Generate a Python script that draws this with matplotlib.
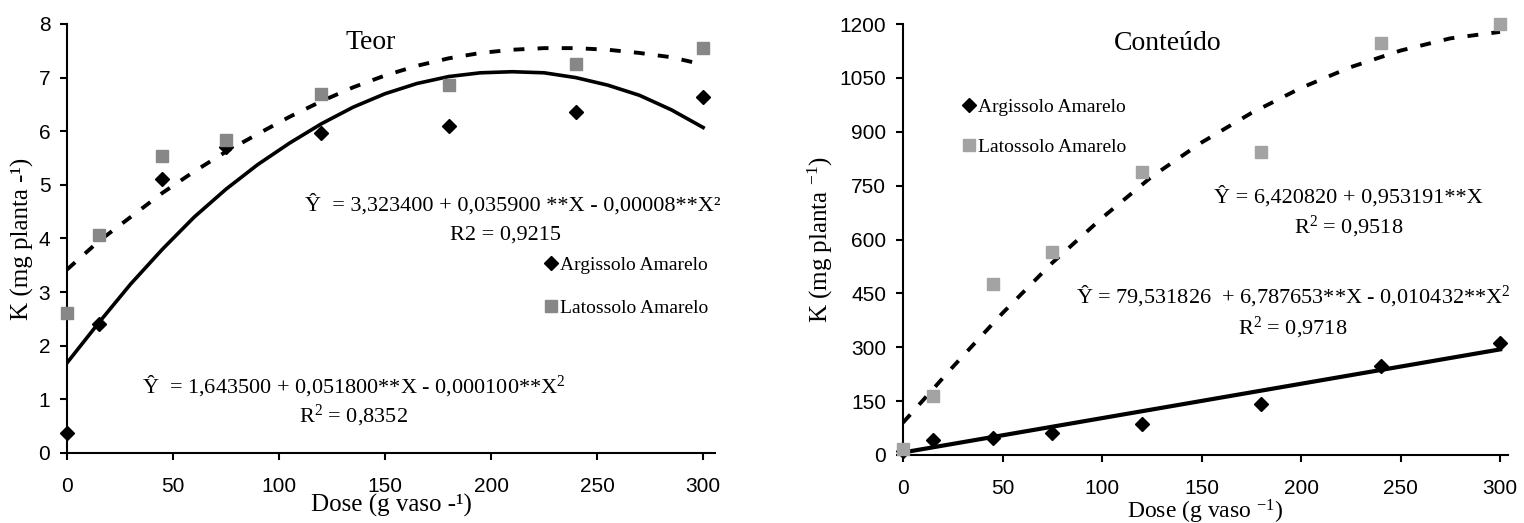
import matplotlib
matplotlib.use("Agg")
import matplotlib.pyplot as plt

# ---------------- data ----------------
doses = [0, 15, 45, 75, 120, 180, 240, 300]

teor_argissolo = [0.37, 2.40, 5.11, 5.70, 5.97, 6.09, 6.36, 6.64]
teor_latossolo = [2.62, 4.07, 5.53, 5.83, 6.69, 6.87, 7.26, 7.56]

conteudo_argissolo = [10, 41, 48, 62, 86, 141, 248, 313]
conteudo_latossolo = [16, 163, 476, 565, 788, 844, 1146, 1200]

# fitted curves
fit_x_teor = [0, 15, 30, 45, 60, 75, 90, 105, 120, 135, 150, 165, 180, 195,
              210, 225, 240, 255, 270, 285, 300]
fit_teor_arg = [1.68, 2.43, 3.15, 3.80, 4.40, 4.92, 5.38, 5.78, 6.14, 6.45,
                6.70, 6.89, 7.02, 7.09, 7.11, 7.09, 7.00, 6.86, 6.67, 6.40, 6.07]
fit_x_teor_lat = [0, 15, 30, 45, 60, 75, 90, 105, 120, 135, 150, 165, 180,
                  195, 210, 225, 240, 255, 270, 285, 296]
fit_teor_lat = [3.42, 3.95, 4.40, 4.85, 5.25, 5.62, 5.95, 6.27, 6.56, 6.82,
                7.04, 7.22, 7.36, 7.46, 7.52, 7.55, 7.55, 7.52, 7.46, 7.38, 7.28]

fit_x_cont_arg = [0, 300]
fit_cont_arg = [7, 294]
fit_x_cont_lat = [0, 25, 50, 75, 100, 125, 150, 175, 200, 225, 250, 275, 300]
fit_cont_lat = [90, 245, 395, 535, 660, 775, 870, 952, 1022, 1080, 1126, 1160, 1178]

x_ticks = [0, 50, 100, 150, 200, 250, 300]
teor_ticks = [0, 1, 2, 3, 4, 5, 6, 7, 8]
cont_ticks = [0, 150, 300, 450, 600, 750, 900, 1050, 1200]

label_arg = "Argissolo Amarelo"
label_lat = "Latossolo Amarelo"

# ---------------- styling ----------------
SERIF = ["Liberation Serif", "DejaVu Serif"]
SANS = ["Liberation Sans", "DejaVu Sans"]
plt.rcParams["font.family"] = SANS
plt.rcParams["mathtext.fontset"] = "custom"
plt.rcParams["mathtext.rm"] = "Liberation Serif"
plt.rcParams["mathtext.it"] = "Liberation Serif:italic"

W, H = 1524, 523
fig = plt.figure(figsize=(W / 100, H / 100), dpi=100)

GRAY_L = "#878787"
GRAY_R = "#a3a3a3"
EQ_FS = 16


def style_axes(ax):
    for s in ("top", "right"):
        ax.spines[s].set_visible(False)
    for s in ("left", "bottom"):
        ax.spines[s].set_linewidth(1.5)
    ax.tick_params(axis="both", direction="out", length=5, width=1.5,
                   labelsize=15)
    ax.tick_params(axis="x", pad=12)
    ax.tick_params(axis="y", pad=7)


# ---------------- left: Teor ----------------
ax1 = fig.add_axes([67 / W, (H - 453) / H, 648 / W, 429 / H])
ax1.set_xlim(0, 305.6)
ax1.set_ylim(0, 8)
ax1.set_xticks(x_ticks)
ax1.set_yticks(teor_ticks)
style_axes(ax1)

ax1.plot(fit_x_teor, fit_teor_arg, color="black", lw=2.6, zorder=2)
ax1.plot(fit_x_teor_lat, fit_teor_lat, color="black", lw=2.8,
         dashes=(2.8, 3.4), zorder=2)
ax1.plot(doses, teor_argissolo, linestyle="none", marker="D", ms=7.5,
         color="black", label=label_arg, zorder=3, clip_on=False)
ax1.plot(doses, teor_latossolo, linestyle="none", marker="s", ms=8,
         color=GRAY_L, label=label_lat, zorder=3, clip_on=False)

ax1.text(143, 7.65, "Teor", family=SERIF, fontsize=20, ha="center",
         va="center")
ax1.text(210, 4.62, "Ŷ  = 3,323400 + 0,035900 **X - 0,00008**X²",
         family=SERIF, fontsize=EQ_FS, ha="center", va="center",
         clip_on=False)
ax1.text(207, 4.06, "R2 = 0,9215", family=SERIF, fontsize=EQ_FS,
         ha="center", va="center")
ax1.text(135, 1.25, "Ŷ  = 1,643500 + 0,051800**X - 0,000100**X$^{2}$",
         family=SERIF, fontsize=EQ_FS, ha="center", va="center")
ax1.text(135, 0.69, "R$^{2}$ = 0,8352", family=SERIF, fontsize=EQ_FS,
         ha="center", va="center")

leg1 = ax1.legend(loc="upper left", bbox_to_anchor=(0.738, 0.458),
                  frameon=False, borderpad=0, borderaxespad=0,
                  handlelength=0.6, handletextpad=0.15, labelspacing=1.3,
                  prop={"family": SERIF, "size": 14})

ax1.set_xlabel("Dose (g vaso -¹)", family=SERIF, fontsize=18, labelpad=-1)
ax1.set_ylabel("K (mg planta -¹)", family=SERIF, fontsize=18, labelpad=3)

# ---------------- right: Conteúdo ----------------
ax2 = fig.add_axes([903 / W, (H - 455) / H, 605 / W, 431 / H])
ax2.set_xlim(0, 304)
ax2.set_ylim(0, 1200)
ax2.set_xticks(x_ticks)
ax2.set_yticks(cont_ticks)
style_axes(ax2)

ax2.plot(fit_x_cont_arg, fit_cont_arg, color="black", lw=3.0, zorder=2)
ax2.plot(fit_x_cont_lat, fit_cont_lat, color="black", lw=2.8,
         dashes=(2.8, 3.4), zorder=2)
ax2.plot(doses, conteudo_argissolo, linestyle="none", marker="D", ms=7.5,
         color="black", label=label_arg, zorder=3, clip_on=False)
ax2.plot(doses, conteudo_latossolo, linestyle="none", marker="s", ms=8,
         color=GRAY_R, label=label_lat, zorder=3, clip_on=False)

ax2.text(133, 1147, "Conteúdo", family=SERIF, fontsize=20, ha="center",
         va="center")
ax2.text(224, 718, "Ŷ = 6,420820 + 0,953191**X", family=SERIF,
         fontsize=EQ_FS, ha="center", va="center")
ax2.text(224, 636, "R$^{2}$ = 0,9518", family=SERIF, fontsize=EQ_FS,
         ha="center", va="center")
ax2.text(196, 443, "Ŷ = 79,531826  + 6,787653**X - 0,010432**X$^{2}$",
         family=SERIF, fontsize=EQ_FS, ha="center", va="center",
         clip_on=False)
ax2.text(196, 354, "R$^{2}$ = 0,9718", family=SERIF, fontsize=EQ_FS,
         ha="center", va="center")

leg2 = ax2.legend(loc="upper left", bbox_to_anchor=(0.10, 0.828),
                  frameon=False, borderpad=0, borderaxespad=0,
                  handlelength=0.6, handletextpad=0.15, labelspacing=1.15,
                  prop={"family": SERIF, "size": 14})

ax2.set_xlabel("Dose (g vaso $^{-1}$)", family=SERIF, fontsize=17,
               labelpad=0)
ax2.set_ylabel("K (mg planta $^{-1}$)", family=SERIF, fontsize=18,
               labelpad=3)

fig.savefig("out.png", dpi=100)
